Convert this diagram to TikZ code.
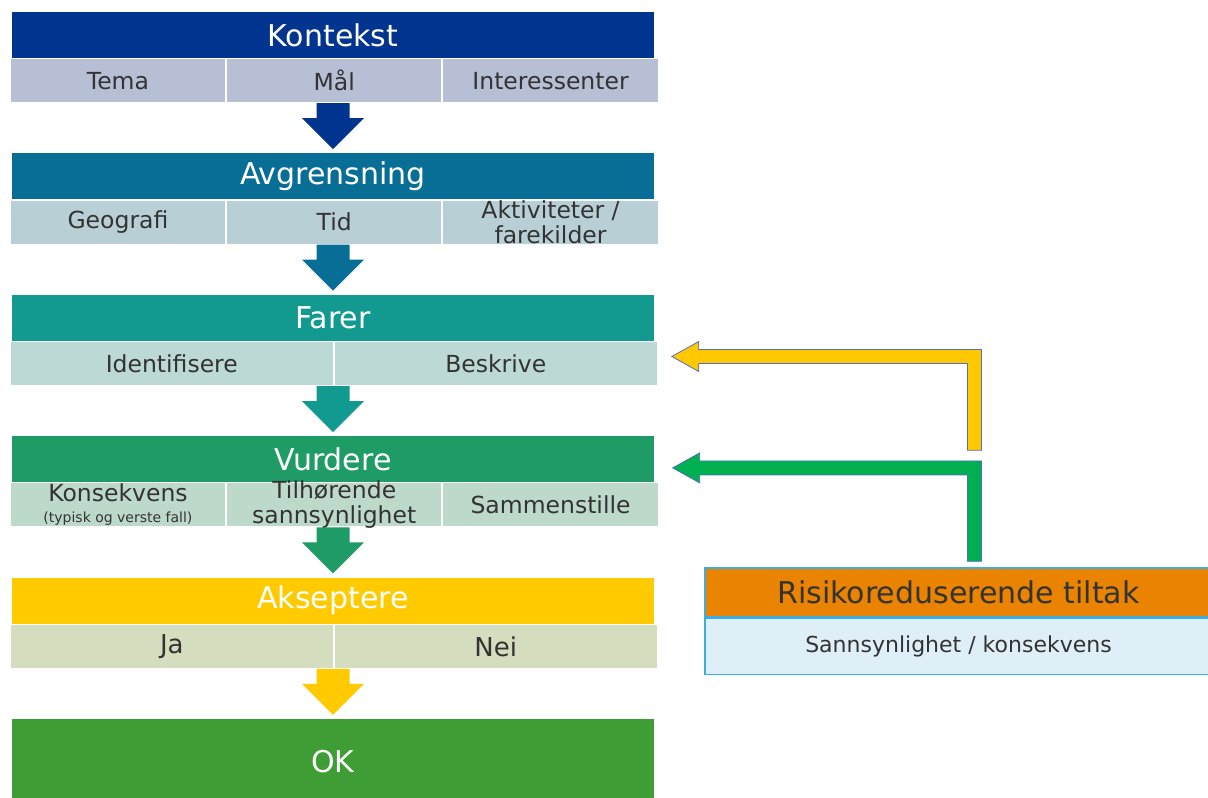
\documentclass[tikz,border=0pt]{standalone}
\usepackage{fontspec}
\setmainfont{DejaVu Sans}
\usetikzlibrary{positioning,calc}

\definecolor{ckont}{HTML}{00348F}
\definecolor{skont}{HTML}{B7BFD5}
\definecolor{cavgr}{HTML}{086E96}
\definecolor{savgr}{HTML}{B9CFD6}
\definecolor{cfar}{HTML}{129A90}
\definecolor{sfar}{HTML}{BCD9D6}
\definecolor{cvurd}{HTML}{1F9B66}
\definecolor{svurd}{HTML}{BDD9C9}
\definecolor{caksp}{HTML}{FFCB00}
\definecolor{saksp}{HTML}{D4DEBE}
\definecolor{cok}{HTML}{3F9D35}
\definecolor{txtgray}{HTML}{333333}
\definecolor{fbyellow}{HTML}{FFC800}
\definecolor{fbgreen}{HTML}{00B050}
\definecolor{fbline}{HTML}{4F6FBF}
\definecolor{ctiltak}{HTML}{E98300}
\definecolor{stiltak}{HTML}{DFEFF8}
\definecolor{btiltak}{HTML}{3AAEE0}

% block arrow down: header, sub cell, next header, colour
\newcommand{\downblock}[4]{%
  \fill[#4] ($(#1.south |- #2.south)+(-16.5,0)$) -- ($(#3.north)+(-16.5,35)$)
    -- ($(#3.north)+(-31,35)$) -- ($(#3.north)+(0,4)$) -- ($(#3.north)+(31,35)$)
    -- ($(#3.north)+(16.5,35)$) -- ($(#1.south |- #2.south)+(16.5,0)$) -- cycle;}
% bent block arrow back: tip, foot, colour
\newcommand{\backblock}[3]{%
  \filldraw[fill=#3, draw=fbline, line width=0.8pt] let \p1=(#1), \p2=(#2) in
    (\p1) -- (\x1+27pt,\y1+15pt) -- (\x1+27pt,\y1+7pt) -- (\x2+7pt,\y1+7pt)
    -- (\x2+7pt,\y2) -- (\x2-7pt,\y2) -- (\x2-7pt,\y1-7pt) -- (\x1+27pt,\y1-7pt)
    -- (\x1+27pt,\y1-15pt) -- cycle;}

\begin{document}
\begin{tikzpicture}[
  x=1pt, y=1pt,
  head/.style={rectangle, minimum width=642pt, minimum height=46pt, inner sep=0pt,
    text=white, font=\fontsize{30}{32}\selectfont},
  cell/.style={rectangle, draw=white, line width=1pt, minimum height=44pt, inner sep=0pt,
    align=center, text=txtgray, font=\fontsize{23.5}{25}\selectfont},
  cellthree/.style={cell, minimum width=215.3pt},
  celltwo/.style={cell, minimum width=323pt},
  tiltakbox/.style={rectangle, draw=btiltak, line width=1.5pt, minimum width=507pt,
    inner sep=0pt, text=txtgray}
]
\useasboundingbox (0,0) rectangle (1208,-798);

\node[head, fill=ckont] (kont) at (333,-35) {Kontekst};
\node[cellthree, fill=skont, anchor=north west] (tema) at ($(kont.south west)+(-2,0)$) {Tema};
\node[cellthree, fill=skont, right=0pt of tema] (maal) {Mål};
\node[cellthree, fill=skont, right=0pt of maal] (inter) {Interessenter};

\node[head, fill=cavgr, below=95pt of kont] (avgr) {Avgrensning};
\node[cellthree, fill=savgr, anchor=north west] (geo) at ($(avgr.south west)+(-2,0)$) {Geografi};
\node[cellthree, fill=savgr, right=0pt of geo] (tid) {Tid};
\node[cellthree, fill=savgr, right=0pt of tid, inner ysep=-3pt] (aktiv) {Aktiviteter /\\farekilder};

\node[head, fill=cfar, below=95pt of avgr] (farer) {Farer};
\node[celltwo, fill=sfar, anchor=north west] (ident) at ($(farer.south west)+(-2,0)$) {Identifisere};
\node[celltwo, fill=sfar, right=0pt of ident] (beskr) {Beskrive};

\node[head, fill=cvurd, below=95pt of farer] (vurd) {Vurdere};
\node[cellthree, fill=svurd, anchor=north west] (kons) at ($(vurd.south west)+(-2,0)$)
  {Konsekvens\\[-4pt]{\fontsize{14}{15}\selectfont (typisk og verste fall)}};
\node[cellthree, fill=svurd, right=0pt of kons, inner ysep=-3pt] (tilh) {Tilhørende\\sannsynlighet};
\node[cellthree, fill=svurd, right=0pt of tilh] (samm) {Sammenstille};

\node[head, fill=caksp, below=95pt of vurd] (aksp) {Akseptere};
\node[celltwo, fill=saksp, anchor=north west, font=\fontsize{26}{28}\selectfont] (ja)
  at ($(aksp.south west)+(-2,0)$) {Ja};
\node[celltwo, fill=saksp, right=0pt of ja, font=\fontsize{26}{28}\selectfont] (nei) {Nei};

\node[head, fill=cok, below=95pt of aksp, minimum height=86pt] (ok) {OK};

\downblock{kont}{maal}{avgr}{ckont}
\downblock{avgr}{tid}{farer}{cavgr}
\downblock{farer}{ident}{vurd}{cfar}
\downblock{vurd}{tilh}{aksp}{cvurd}
\downblock{aksp}{ja}{ok}{caksp}

% risk reducing measures
\node[tiltakbox, fill=ctiltak, minimum height=49pt, font=\fontsize{30}{32}\selectfont]
  (tiltak) at (958.5,-592.5) {Risikoreduserende tiltak};
\node[tiltakbox, fill=stiltak, minimum height=56pt, font=\fontsize{22}{24}\selectfont,
  below=0pt of tiltak] (tiltaksub) {Sannsynlighet / konsekvens};

\coordinate (gtip) at ($(samm.east)+(14,37)$);
\coordinate (gfoot) at ($(tiltak.north)+(16,6)$);
\coordinate (ytip) at ($(beskr.east)+(14,7)$);
\coordinate (yfoot) at ($(gfoot)+(0,111)$);
\backblock{ytip}{yfoot}{fbyellow}
\backblock{gtip}{gfoot}{fbgreen}
\end{tikzpicture}
\end{document}
